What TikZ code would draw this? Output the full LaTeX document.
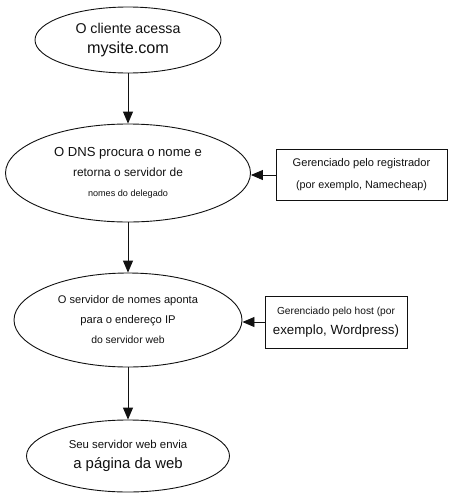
\documentclass[tikz,border=0pt]{standalone}
\usepackage{fontspec}
\setmainfont{Liberation Sans}
\usetikzlibrary{arrows.meta, positioning, shapes.geometric}
\definecolor{ink}{HTML}{111111}

\begin{document}
\begin{tikzpicture}[x=1pt, y=-1pt, line cap=round,
    every node/.style={text=ink},
    stepell/.style={ellipse, draw=ink, line width=0.9pt, inner sep=0pt, align=center,
        font=\fontsize{11}{20}\selectfont},
    notebox/.style={rectangle, draw=ink, line width=0.8pt, inner sep=0pt, align=center,
        font=\fontsize{11}{20}\selectfont},
    flow/.style={-{Triangle[length=12pt, width=10pt]}, line width=0.9pt, ink}
]

% ---------------- canvas (453 x 498), white ----------------
\fill[white] (0,0) rectangle (453,498);
\useasboundingbox (0,0) rectangle (453,498);

% ---------------- main flow ----------------
\node[stepell, minimum width=186, minimum height=66] (client) at (128,40)
    {\fontsize{14.2}{20}\selectfont O cliente acessa\\
     \fontsize{16.2}{20}\selectfont mysite.com};

\node[stepell, minimum width=245, minimum height=98] (dns) at (128,173)
    {\fontsize{13.1}{20}\selectfont O DNS procura o nome e\\
     \fontsize{11.9}{20}\selectfont retorna o servidor de\\
     \fontsize{9.1}{20}\selectfont nomes do delegado};

\node[stepell, minimum width=228, minimum height=94] (ns) at (128,320)
    {\fontsize{11.1}{20}\selectfont O servidor de nomes aponta\\
     \fontsize{11.2}{20}\selectfont para o endereço IP\\
     \fontsize{10.4}{20}\selectfont do servidor web};

\node[stepell, minimum width=203, minimum height=72] (web) at (128,456)
    {\fontsize{11.4}{20}\selectfont Seu servidor web envia\\
     \fontsize{14.9}{20}\selectfont a página da web};

% ---------------- side notes ----------------
\node[notebox, minimum width=171, minimum height=51, font=\fontsize{11}{22}\selectfont] (registrar) at (361.5,175)
    {\fontsize{11.1}{22}\selectfont Gerenciado pelo registrador\\
     \fontsize{10.8}{22}\selectfont (por exemplo, Namecheap)};

\node[notebox, minimum width=142, minimum height=52] (host) at (336,322)
    {\fontsize{10.2}{20}\selectfont Gerenciado pelo host (por\\
     \fontsize{13.3}{20}\selectfont exemplo, Wordpress)};

% ---------------- connectors ----------------
\draw[flow] (client) -- (dns);
\draw[flow] (dns) -- (ns);
\draw[flow] (ns) -- (web);
\draw[flow] (registrar.west) -- (dns.east |- registrar.west);
\draw[flow] (host.west) -- (ns.east |- host.west);

\end{tikzpicture}
\end{document}
